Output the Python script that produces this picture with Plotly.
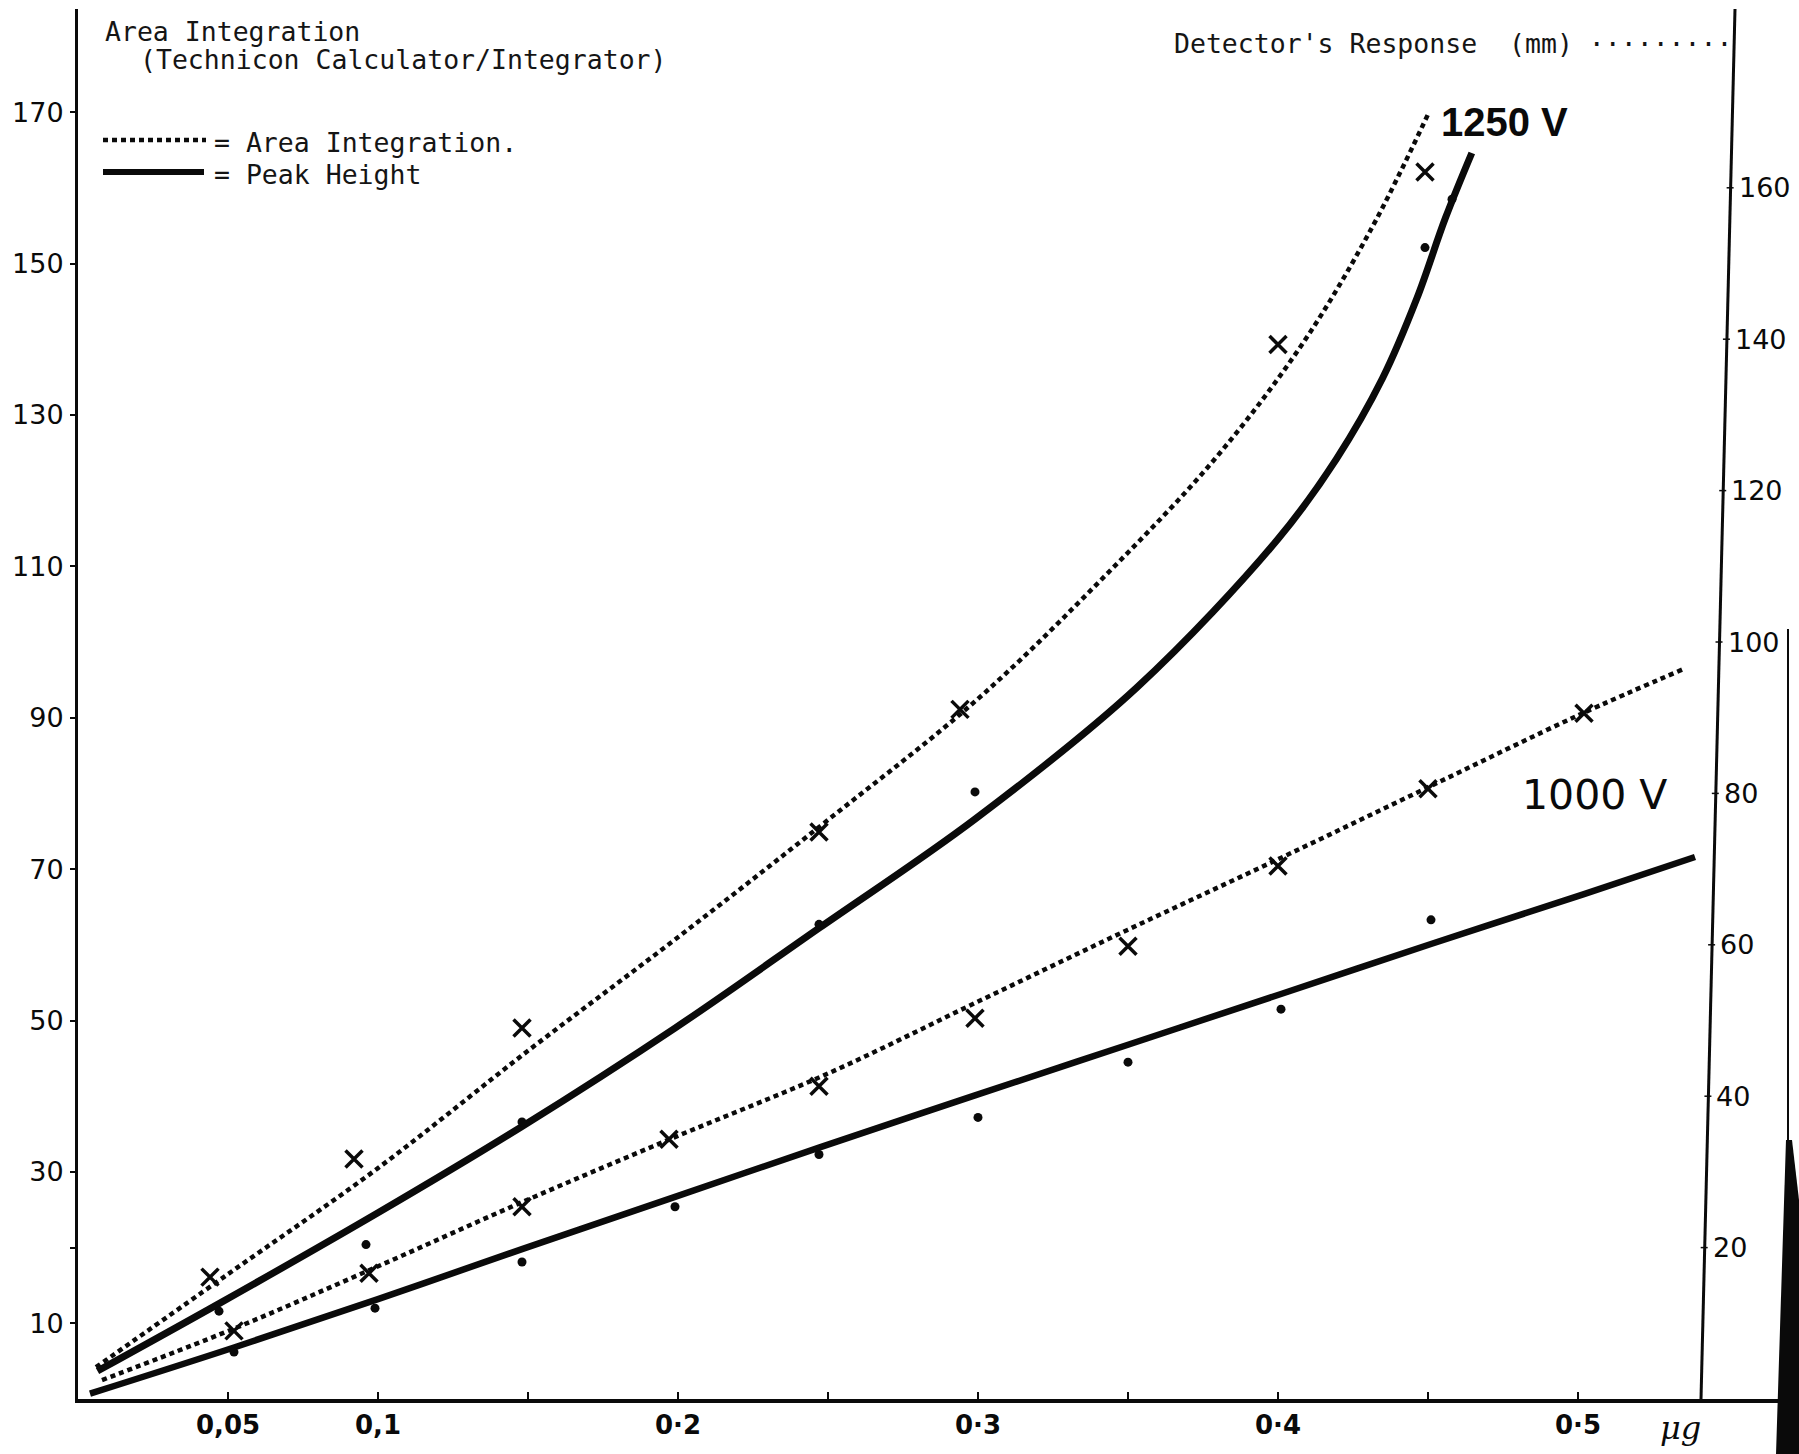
import plotly.graph_objects as go

# ---- measured values (x in micrograms, y in mm / integrator units) ----
# 1250 V, area integration (x marks) and hand-fitted dotted curve
v1250_area_x = [0.044, 0.092, 0.148, 0.247, 0.294, 0.400, 0.449]
v1250_area_y = [16.1, 31.7, 49.0, 74.9, 91.1, 139.3, 162.1]
v1250_area_fit_x = [0.006, 0.050, 0.100, 0.150, 0.200, 0.250, 0.300, 0.343, 0.379, 0.408, 0.431, 0.450]
v1250_area_fit_y = [4.2, 16.5, 30.5, 46.0, 61.0, 76.5, 92.5, 109.0, 124.2, 139.3, 154.5, 169.7]

# 1250 V, peak height (dots) and solid curve
v1250_peak_x = [0.047, 0.096, 0.148, 0.247, 0.299, 0.449, 0.458]
v1250_peak_y = [11.6, 20.4, 36.6, 62.7, 80.2, 152.1, 158.5]
v1250_peak_fit_x = [0.0065, 0.047, 0.100, 0.148, 0.199, 0.247, 0.299, 0.353, 0.400,
                    0.4195, 0.4348, 0.4463, 0.4558, 0.4646]
v1250_peak_fit_y = [3.7, 12.6, 24.6, 36.0, 49.0, 62.2, 76.6, 94.0, 113.6,
                    124.2, 134.8, 145.4, 156.0, 164.6]

# 1000 V, area integration
v1000_area_x = [0.052, 0.097, 0.148, 0.197, 0.247, 0.299, 0.350, 0.400, 0.450, 0.502]
v1000_area_y = [9.0, 16.6, 25.4, 34.3, 41.3, 50.3, 59.8, 70.4, 80.6, 90.6]
v1000_area_fit_x = [0.008, 0.052, 0.097, 0.148, 0.199, 0.250, 0.300, 0.350, 0.400, 0.450, 0.500, 0.535]
v1000_area_fit_y = [2.5, 9.3, 17.0, 26.0, 34.6, 43.0, 52.5, 62.0, 71.3, 80.8, 90.3, 96.4]

# 1000 V, peak height
v1000_peak_x = [0.052, 0.099, 0.148, 0.199, 0.247, 0.300, 0.350, 0.401, 0.451]
v1000_peak_y = [6.2, 12.0, 18.1, 25.4, 32.3, 37.2, 44.5, 51.5, 63.3]
v1000_peak_fit_x = [0.004, 0.052, 0.100, 0.148, 0.199, 0.247, 0.299, 0.350, 0.401, 0.451, 0.502, 0.539]
v1000_peak_fit_y = [0.7, 6.8, 13.2, 19.8, 26.7, 33.2, 40.1, 46.8, 53.5, 60.1, 66.7, 71.6]

# axis ticks
x_tick_vals = [0.05, 0.1, 0.15, 0.2, 0.25, 0.3, 0.35, 0.4, 0.45, 0.5]
x_tick_text = ["0,05", "0,1", "", "0·2", "", "0·3", "", "0·4", "", "0·5"]
left_tick_vals = [10, 20, 30, 50, 70, 90, 110, 130, 150, 170]
left_tick_text = ["10", "", "30", "50", "70", "90", "110", "130", "150", "170"]
right_tick_vals = [20, 40, 60, 80, 100, 120, 140, 160]

# ---- page geometry ----
W, H = 1799, 1454
ML, MR, MT, MB = 78, 0, 9, 55
PX_PER_X = 3000.0
PX_PER_Y = 7.57
X_MAX = (W - ML - MR) / PX_PER_X
Y_MAX = (H - MT - MB) / PX_PER_Y


def px(xp):
    return (xp - ML) / (W - ML - MR)


def py(yp):
    return (H - MB - yp) / (H - MT - MB)


INK = "#0a0a0a"
DOT = "5px,4px"

fig = go.Figure()


def curve(xs, ys, width, dash):
    fig.add_trace(go.Scatter(x=xs, y=ys, mode="lines",
                             line=dict(color=INK, width=width, dash=dash,
                                       shape="spline", smoothing=1.0),
                             hoverinfo="skip", showlegend=False))


def crosses(xs, ys):
    fig.add_trace(go.Scatter(x=xs, y=ys, mode="markers",
                             marker=dict(symbol="x-thin", size=17,
                                         line=dict(color=INK, width=3.5)),
                             showlegend=False))


def dots(xs, ys):
    fig.add_trace(go.Scatter(x=xs, y=ys, mode="markers",
                             marker=dict(symbol="circle", size=9, color=INK),
                             showlegend=False))


curve(v1250_area_fit_x, v1250_area_fit_y, 4.5, DOT)
curve(v1250_peak_fit_x, v1250_peak_fit_y, 7, "solid")
curve(v1000_area_fit_x, v1000_area_fit_y, 4.5, DOT)
curve(v1000_peak_fit_x, v1000_peak_fit_y, 6.5, "solid")
crosses(v1250_area_x, v1250_area_y)
dots(v1250_peak_x, v1250_peak_y)
crosses(v1000_area_x, v1000_area_y)
dots(v1000_peak_x, v1000_peak_y)

# ---- right-hand (slightly slanted) detector-response axis ----
rx_bottom = (1701 - ML) / PX_PER_X
rx_top = (1735 - ML) / PX_PER_X


def right_axis_x(v):
    return rx_bottom + (rx_top - rx_bottom) * v / Y_MAX


shapes = [
    dict(type="line", xref="x", yref="y", x0=rx_bottom, y0=0, x1=rx_top, y1=Y_MAX,
         line=dict(color=INK, width=3)),
    # legend samples
    dict(type="line", xref="paper", yref="paper", x0=px(103), x1=px(206),
         y0=py(140), y1=py(140), line=dict(color=INK, width=4.5, dash=DOT)),
    dict(type="line", xref="paper", yref="paper", x0=px(103), x1=px(204),
         y0=py(172), y1=py(172), line=dict(color=INK, width=6)),
    # dark scanned page edge at the far right
    dict(type="line", xref="paper", yref="paper", x0=px(1788), x1=px(1788),
         y0=py(629), y1=py(1150), line=dict(color=INK, width=2)),
    dict(type="path", xref="paper", yref="paper",
         path="M {a},{b} L {c},{b} L {d},{e} L {d},{f} L {g},{f} Z".format(
             a=px(1786), b=py(1140), c=px(1792), d=px(1799), e=py(1200),
             f=py(1454), g=px(1776)),
         fillcolor=INK, line=dict(width=0)),
]
for v in right_tick_vals:
    shapes.append(dict(type="line", xref="x", yref="y",
                       x0=right_axis_x(v) - 4 / PX_PER_X, x1=right_axis_x(v) + 3 / PX_PER_X,
                       y0=v, y1=v, line=dict(color=INK, width=1.5)))

mono = dict(family="DejaVu Sans Mono", size=26.5, color="#151515")
annotations = [
    dict(text="Area Integration", x=px(103), y=py(31), **{"font": mono}),
    dict(text="(Technicon Calculator/Integrator)", x=px(138), y=py(60), **{"font": mono}),
    dict(text="= Area Integration.", x=px(212), y=py(142), **{"font": mono}),
    dict(text="= Peak Height", x=px(212), y=py(174), **{"font": mono}),
    dict(text="Detector's Response  (mm) ·········", x=px(1172), y=py(44), **{"font": mono}),
]
for a in annotations:
    a.update(xref="paper", yref="paper", xanchor="left", yanchor="middle", showarrow=False)

annotations.append(dict(text="1250 V", x=0.4755, y=168.7, xref="x", yref="y",
                        showarrow=False, xanchor="center", yanchor="middle",
                        font=dict(family="Liberation Sans", size=40, color=INK, weight="bold")))
annotations.append(dict(text="1000 V", x=0.5055, y=79.8, xref="x", yref="y",
                        showarrow=False, xanchor="center", yanchor="middle",
                        font=dict(family="DejaVu Sans", size=41, color=INK)))
annotations.append(dict(text="<i>μg</i>", x=px(1680), y=py(1428), xref="paper", yref="paper",
                        showarrow=False, xanchor="center", yanchor="middle",
                        font=dict(family="DejaVu Serif", size=32, color=INK)))
for v in right_tick_vals:
    annotations.append(dict(text=str(v), x=right_axis_x(v), y=v, xref="x", yref="y",
                            xanchor="left", yanchor="middle", xshift=6, showarrow=False,
                            font=dict(family="DejaVu Sans", size=27, color=INK)))

fig.update_layout(
    width=W, height=H,
    margin=dict(l=ML, r=MR, t=MT, b=MB, pad=0),
    paper_bgcolor="white", plot_bgcolor="white",
    showlegend=False,
    shapes=shapes,
    annotations=annotations,
    xaxis=dict(range=[0, X_MAX], showgrid=False, zeroline=False,
               showline=True, linecolor=INK, linewidth=4,
               tickmode="array", tickvals=x_tick_vals, ticktext=x_tick_text,
               ticks="inside", ticklen=7, tickwidth=2, tickcolor=INK,
               tickfont=dict(family="DejaVu Sans", size=26, color=INK, weight="bold")),
    yaxis=dict(range=[0, Y_MAX], showgrid=False, zeroline=False,
               showline=True, linecolor=INK, linewidth=3,
               tickmode="array", tickvals=left_tick_vals, ticktext=left_tick_text,
               ticks="outside", ticklen=5, tickwidth=2, tickcolor=INK,
               ticklabelstandoff=1,
               tickfont=dict(family="DejaVu Sans", size=27, color=INK)),
)

fig.write_html("out.html")
